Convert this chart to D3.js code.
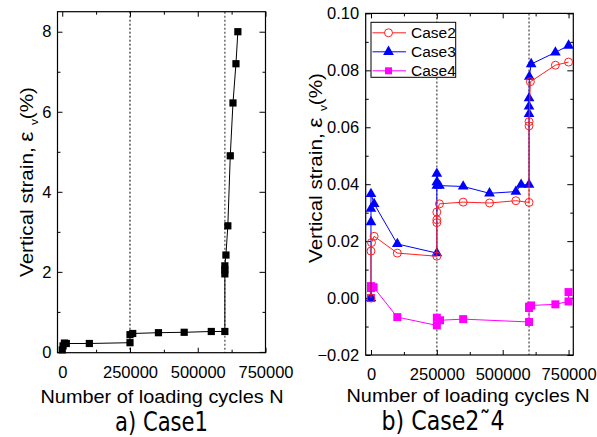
<!DOCTYPE html>
<html>
<head>
<meta charset="utf-8">
<script src="https://cdn.jsdelivr.net/npm/d3@7"></script>
<style>
	body { margin: 0; background: #fff; }
	svg { display: block; font-family: "Liberation Sans", Arial, sans-serif; }
</style>
</head>
<body>
<div class="canvas"></div>
<script>
// Case1 (left panel)
const case1N = [0, 3000, 8000, 15000, 100000, 250000, 250000, 260000, 355000, 450000, 550000, 600000, 600000, 600000, 600000, 604000, 611000, 620000, 630000, 641000, 648000];
const case1Strain = [0.05, 0.15, 0.22, 0.21, 0.21, 0.23, 0.43, 0.46, 0.48, 0.49, 0.51, 0.51, 1.95, 2.05, 2.15, 2.42, 3.15, 4.9, 6.22, 7.2, 8.0];

// Case2 ~ Case4 (right panel)
const case2N = [0, 0, 2000, 12000, 100000, 250000, 250000, 250000, 250000, 260000, 350000, 450000, 550000, 600000, 600000, 600000, 605000, 700000, 750000];
const case2Strain = [0.0, 0.0165, 0.0195, 0.0217, 0.0158, 0.0147, 0.0265, 0.0275, 0.0302, 0.0331, 0.0337, 0.0334, 0.0342, 0.0336, 0.0605, 0.062, 0.076, 0.0818, 0.0829];
const case3N = [0, 0, 0, 0, 12000, 100000, 250000, 250000, 250000, 250000, 260000, 350000, 450000, 550000, 570000, 600000, 600000, 600000, 600000, 601000, 608000, 700000, 750000];
const case3Strain = [0.0, 0.0267, 0.0314, 0.0366, 0.0331, 0.019, 0.0158, 0.0395, 0.0407, 0.0437, 0.0395, 0.0392, 0.0368, 0.0374, 0.0398, 0.0398, 0.0647, 0.0673, 0.0702, 0.0778, 0.0822, 0.0863, 0.0887];
const case4N = [0, 0, 0, 10000, 100000, 250000, 250000, 262000, 350000, 600000, 600000, 600000, 608000, 700000, 750000, 750000];
const case4Strain = [0.0, 0.0035, 0.0042, 0.0038, -0.0067, -0.0096, -0.0069, -0.0078, -0.0074, -0.0084, -0.0035, -0.003, -0.0026, -0.0022, -0.0012, 0.0021];

const caseNames = ["Case2", "Case3", "Case4"];
const xTicks = [0, 250000, 500000, 750000];
const xMinor = [125000, 375000, 625000];
const yTicksA = [0, 2, 4, 6, 8];
const yMinorA = [1, 3, 5, 7];
const yTicksB = [-0.02, 0, 0.02, 0.04, 0.06, 0.08, 0.1];
const yMinorB = [-0.01, 0.01, 0.03, 0.05, 0.07, 0.09];
const stageLines = [250000, 600000];

const svg = d3
	.select(".canvas")
	.append("svg")
	.attr("width", 597)
	.attr("height", 437);

function drawPanel(cfg) {
	const x = d3.scaleLinear().domain(cfg.xDomain).range([cfg.left, cfg.right]);
	const y = d3.scaleLinear().domain(cfg.yDomain).range([cfg.bottom, cfg.top]);
	const g = svg.append("g");

	// stage boundaries
	g.selectAll("line.stage")
		.data(stageLines)
		.enter()
		.append("line")
		.attr("x1", (d) => x(d))
		.attr("x2", (d) => x(d))
		.attr("y1", cfg.top)
		.attr("y2", cfg.bottom)
		.attr("stroke", (d, i) => cfg.stageColor[i])
		.attr("stroke-width", (d, i) => cfg.stageWidth[i])
		.attr("stroke-dasharray", "2,2");

	const axis = (gen, tx, ty, values, size, fmt) => {
		const a = g
			.append("g")
			.attr("transform", `translate(${tx}, ${ty})`)
			.call(gen.tickValues(values).tickSize(-size).tickPadding(cfg.pad).tickFormat(fmt || ""));
		a.select(".domain").remove();
		a.selectAll("line").attr("stroke", "#000");
		a.attr("font-family", null).attr("font-size", 16.5);
		a.selectAll("text").attr("fill", "#000");
		return a;
	};
	const h = cfg.bottom - cfg.top;
	const w = cfg.right - cfg.left;
	axis(d3.axisBottom(x), 0, cfg.bottom, xTicks, 5, d3.format("d")).selectAll("text").attr("dy", null).attr("y", 25);
	axis(d3.axisBottom(x), 0, cfg.bottom, xMinor, 3);
	axis(d3.axisTop(x), 0, cfg.top, xTicks, 5);
	axis(d3.axisTop(x), 0, cfg.top, xMinor, 3);
	axis(d3.axisLeft(y), cfg.left, 0, cfg.yTicks, 5, cfg.yFormat).selectAll("text").attr("x", -cfg.yPad);
	axis(d3.axisLeft(y), cfg.left, 0, cfg.yMinor, 3);
	axis(d3.axisRight(y), cfg.right, 0, cfg.yTicks, 6);
	axis(d3.axisRight(y), cfg.right, 0, cfg.yMinor, 3);

	g.append("rect")
		.attr("x", cfg.left)
		.attr("y", cfg.top)
		.attr("width", w)
		.attr("height", h)
		.attr("fill", "none")
		.attr("stroke", "#000")
		.attr("stroke-width", 1.2);

	const line = d3
		.line()
		.x((d) => x(d[0]))
		.y((d) => y(d[1]));

	cfg.series.forEach((s) => {
		const pts = d3.zip(s.n, s.v);
		g.append("path")
			.attr("d", line(pts))
			.attr("fill", "none")
			.attr("stroke", s.color)
			.attr("stroke-width", 1);
		g.selectAll(null)
			.data(pts)
			.enter()
			.append("path")
			.attr("transform", (d) => `translate(${x(d[0])}, ${y(d[1])})`)
			.attr("d", d3.symbol().type(s.symbol).size(s.size))
			.attr("fill", s.hollow ? "none" : s.color)
			.attr("stroke", s.color)
			.attr("stroke-width", s.hollow ? 1 : 0);
	});

	// y title
	const yt = g
		.append("text")
		.attr("transform", `translate(${cfg.yTitleX}, ${cfg.yTitleY}) rotate(-90)`)
		.attr("text-anchor", "middle")
		.attr("font-size", 19);
	yt.append("tspan").text("Vertical strain, ");
	yt.append("tspan").attr("font-size", 21).text("ε ");
	yt.append("tspan").attr("font-size", 11).attr("dy", 5).text("v");
	yt.append("tspan").attr("dy", -5).text("(%)");
	yt.attr("textLength", 190).attr("lengthAdjust", "spacingAndGlyphs");

	g.append("text")
		.attr("x", cfg.xTitleX)
		.attr("y", cfg.xTitleY)
		.attr("text-anchor", "middle")
		.attr("font-size", 19)
		.attr("textLength", 243)
		.attr("lengthAdjust", "spacingAndGlyphs")
		.text("Number of loading cycles N");

	g.append("text")
		.attr("x", cfg.capX)
		.attr("y", cfg.capY)
		.attr("text-anchor", "middle")
		.attr("font-family", "'Liberation Sans Narrow', 'DejaVu Sans Condensed', sans-serif")
		.attr("font-size", 27)
		.attr("textLength", cfg.capLen)
		.attr("lengthAdjust", "spacingAndGlyphs")
		.text(cfg.caption);

	return { x, y, g };
}

drawPanel({
	left: 57.5, right: 265.5, top: 11.7, bottom: 352.7,
	xDomain: [-17500, 750000], yDomain: [-0.02, 8.5],
	yTicks: yTicksA, yMinor: yMinorA, yFormat: d3.format("d"),
	pad: 6, yPad: 6,
	stageColor: ["#000", "#777"], stageWidth: [1, 1.6],
	series: [{ n: case1N, v: case1Strain, color: "#000", symbol: d3.symbolSquare, size: 52 }],
	yTitleX: 33, yTitleY: 182,
	xTitleX: 162, xTitleY: 402.5,
	capX: 161.5, capY: 430.5, capLen: 93, caption: "a)  Case1",
});

drawPanel({
	left: 365.7, right: 573.3, top: 13.4, bottom: 355,
	xDomain: [-20000, 768000], yDomain: [-0.02, 0.1],
	yTicks: yTicksB, yMinor: yMinorB, yFormat: d3.format(".2f"),
	pad: 6, yPad: 6.5,
	stageColor: ["#666", "#666"], stageWidth: [1.5, 1.5],
	series: [
		{ n: case4N, v: case4Strain, color: "#ff00ff", symbol: d3.symbolSquare, size: 64 },
		{ n: case3N, v: case3Strain, color: "#0000ff", symbol: d3.symbolTriangle, size: 50 },
		{ n: case2N, v: case2Strain, color: "#ff2020", symbol: d3.symbolCircle, size: 50, hollow: true },
	],
	yTitleX: 322, yTitleY: 168,
	xTitleX: 468, xTitleY: 401.5,
	capX: 443, capY: 430, capLen: 123, caption: "b)  Case2˜4",
});

// legend
const legendItems = [
	{ name: caseNames[0], color: "#ff2020", symbol: d3.symbolCircle, size: 50, hollow: true },
	{ name: caseNames[1], color: "#0000ff", symbol: d3.symbolTriangle, size: 50 },
	{ name: caseNames[2], color: "#ff00ff", symbol: d3.symbolSquare, size: 49 },
];
const legend = svg.append("g").attr("transform", "translate(371, 22.3)");
legend
	.append("rect")
	.attr("width", 84.7)
	.attr("height", 55)
	.attr("fill", "#fff")
	.attr("stroke", "#000")
	.attr("stroke-width", 1);
const item = legend
	.selectAll("g.item")
	.data(legendItems)
	.enter()
	.append("g")
	.attr("transform", (d, i) => `translate(0, ${10.5 + i * 19})`);
item.append("line")
	.attr("x1", 1.5)
	.attr("x2", 35)
	.attr("stroke", (d) => d.color)
	.attr("stroke-width", 1);
item.append("path")
	.attr("transform", "translate(17.5, 0)")
	.attr("d", (d) => d3.symbol().type(d.symbol).size(d.size)())
	.attr("fill", (d) => (d.hollow ? "#fff" : d.color))
	.attr("stroke", (d) => d.color)
	.attr("stroke-width", (d) => (d.hollow ? 1 : 0));
item.append("text")
	.attr("x", 40)
	.attr("y", 5.5)
	.attr("font-size", 15.5)
	.text((d) => d.name);
</script>
</body>
</html>
